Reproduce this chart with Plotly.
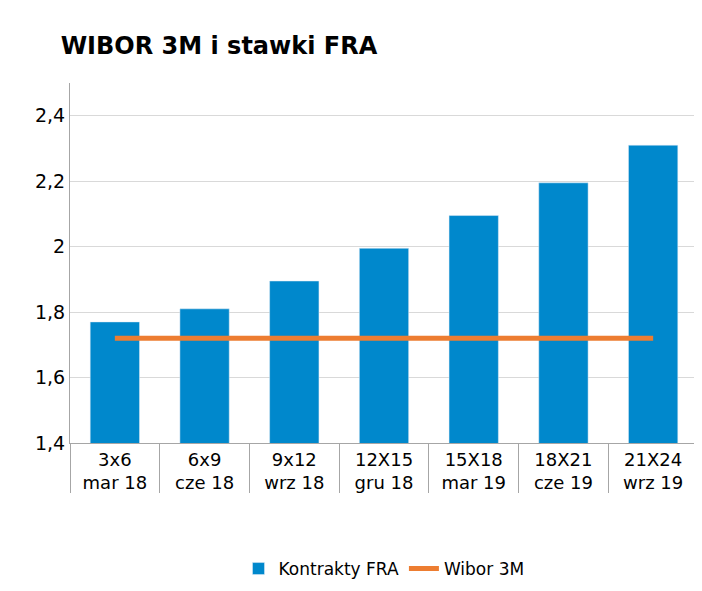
import plotly.graph_objects as go

contracts = ["3x6", "6x9", "9x12", "12X15", "15X18", "18X21", "21X24"]
dates = ["mar 18", "cze 18", "wrz 18", "gru 18", "mar 19", "cze 19", "wrz 19"]
fra = [1.77, 1.81, 1.895, 1.995, 2.095, 2.195, 2.31]
wibor = [1.72] * 7
y_ticks = [1.4, 1.6, 1.8, 2.0, 2.2, 2.4]
y_labels = ["1,4", "1,6", "1,8", "2", "2,2", "2,4"]

x = [dates, contracts]

fig = go.Figure()
fig.add_trace(go.Bar(x=x, y=fra, name="Kontrakty FRA", marker_color="#0088CC", width=0.55))
fig.add_trace(go.Scatter(x=x, y=wibor, name="Wibor 3M", mode="lines",
                         line=dict(color="#ED7D31", width=5)))

fig.update_layout(
    width=702, height=591,
    font=dict(family="DejaVu Sans", size=18, color="#000000"),
    title=dict(text="<b>WIBOR 3M i stawki FRA</b>", x=0.075, xanchor="left", y=0.95,
               font=dict(size=24, color="#000000")),
    plot_bgcolor="white", paper_bgcolor="white",
    margin=dict(l=62, r=12, t=75, b=145),
    legend=dict(orientation="h", x=0.5, xanchor="center", y=-0.3, yanchor="top",
                font=dict(size=17)),
    bargap=0.45,
)
fig.update_yaxes(range=[1.4, 2.5], tickvals=y_ticks, ticktext=y_labels,
                 showgrid=True, gridcolor="#D9D9D9", showline=True, linecolor="#A6A6A6",
                 ticks="", tickfont=dict(size=19))
fig.update_xaxes(showline=True, linecolor="#A6A6A6", showdividers=True,
                 dividercolor="#A6A6A6", tickfont=dict(size=18))

fig.write_html("out.html")
